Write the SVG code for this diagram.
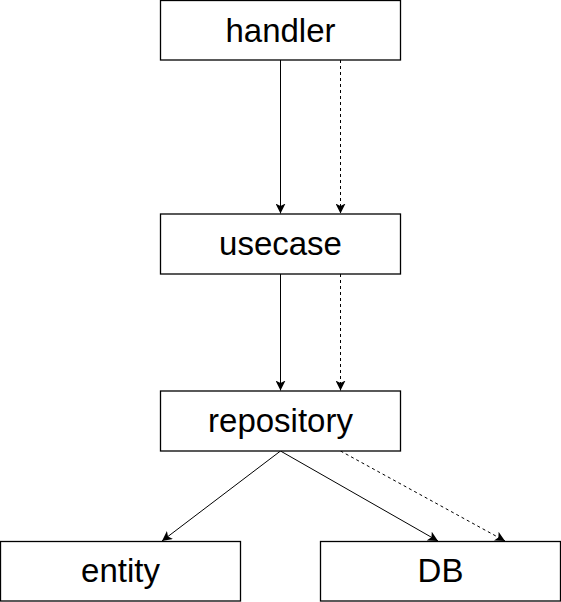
<svg xmlns="http://www.w3.org/2000/svg" width="561" height="602" viewBox="0 0 561 602">
<style>
.box{fill:#fff;stroke:#000;stroke-width:1.3}
.lbl{font-family:"Liberation Sans",Arial,sans-serif;font-size:33px;fill:#000;text-anchor:middle}
.ln{fill:none;stroke:#000;stroke-width:1}
.dash{stroke-dasharray:3 3}
</style>
<defs>
<marker id="ah" viewBox="0 0 10 10" refX="10" refY="5" markerWidth="10" markerHeight="10" markerUnits="userSpaceOnUse" orient="auto">
<path d="M0,0 L10,5 L0,10 L2.5,5 Z" fill="#000"/>
</marker>
</defs>
<rect width="561" height="602" fill="#fff"/>
<g id="connectors">
<line class="ln" x1="280.5" y1="60" x2="280.5" y2="213.5" marker-end="url(#ah)"/>
<line class="ln dash" x1="340.5" y1="60" x2="340.5" y2="213.5" marker-end="url(#ah)"/>
<line class="ln" x1="280.5" y1="274" x2="280.5" y2="390.5" marker-end="url(#ah)"/>
<line class="ln dash" x1="340.5" y1="274" x2="340.5" y2="390.5" marker-end="url(#ah)"/>
<line class="ln" x1="280.5" y1="451" x2="162" y2="541" marker-end="url(#ah)"/>
<line class="ln" x1="280.5" y1="451" x2="438" y2="541" marker-end="url(#ah)"/>
<line class="ln dash" x1="340.5" y1="451" x2="505" y2="541" marker-end="url(#ah)"/>
</g>
<g id="handler">
<rect class="box" x="160.5" y="0.5" width="240" height="59.5"/>
<text class="lbl" x="280.5" y="41.5">handler</text>
</g>
<g id="usecase">
<rect class="box" x="160.5" y="214" width="240" height="60"/>
<text class="lbl" x="280.5" y="255">usecase</text>
</g>
<g id="repository">
<rect class="box" x="160.5" y="391" width="240" height="60"/>
<text class="lbl" x="280.5" y="432">repository</text>
</g>
<g id="entity">
<rect class="box" x="0.5" y="541.5" width="240" height="59.5"/>
<text class="lbl" x="120.5" y="582">entity</text>
</g>
<g id="DB">
<rect class="box" x="320.5" y="541.5" width="240" height="59.5"/>
<text class="lbl" x="440.5" y="582">DB</text>
</g>
</svg>
